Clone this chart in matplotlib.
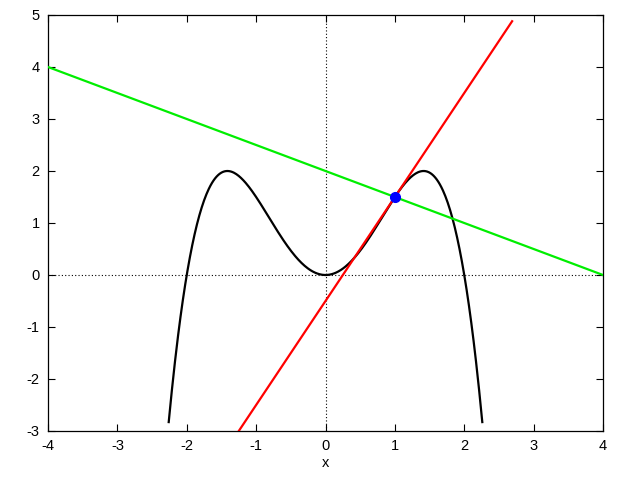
import numpy as np
import matplotlib
matplotlib.use("Agg")
import matplotlib.pyplot as plt

# Data: quartic f(x) = 2x^2 - x^4/2 (coefficients, highest power first)
poly_coeffs = [-0.5, 0.0, 2.0, 0.0, 0.0]
curve_range = [-2.26, 2.26]
tangent_range = [-1.25, 2.69]
normal_range = [-4.0, 4.0]
point_x = [1.0]
point_y = [1.5]
tangent_slope = 2.0
normal_slope = -0.5
xticks = [-4, -3, -2, -1, 0, 1, 2, 3, 4]
yticks = [-3, -2, -1, 0, 1, 2, 3, 4, 5]

plt.rcParams['font.family'] = ['Liberation Sans', 'DejaVu Sans']
plt.rcParams['axes.unicode_minus'] = False
fig = plt.figure(figsize=(6.4, 4.8), dpi=100)
ax = fig.add_axes([48/640, 1-431/480, (603-48)/640, (431-15)/480])

xc = np.linspace(curve_range[0], curve_range[1], 400)
yc = np.polyval(poly_coeffs, xc)
xt = np.linspace(tangent_range[0], tangent_range[1], 2)
yt = point_y[0] + tangent_slope * (xt - point_x[0])
xn = np.linspace(normal_range[0], normal_range[1], 2)
yn = point_y[0] + normal_slope * (xn - point_x[0])

ax.axhline(0, color='black', lw=0.8, ls=(0, (1, 2)), zorder=1)
ax.axvline(0, color='black', lw=0.8, ls=(0, (1, 2)), zorder=1)
ax.plot(xc, yc, color='black', lw=1.6, zorder=3)
ax.plot(xt, yt, color='#ff0000', lw=1.6, zorder=3)
ax.plot(xn, yn, color='#00ee00', lw=1.6, zorder=3)
ax.plot(point_x, point_y, 'o', color='#0000ff', ms=7, zorder=4)

ax.set_xlim(-4, 4)
ax.set_ylim(-3, 5)
ax.set_xticks(xticks)
ax.set_yticks(yticks)
ax.tick_params(direction='in', length=5, width=0.8, top=True, right=True, labelsize=10.5, pad=6, colors='black')
for s in ax.spines.values():
    s.set_linewidth(0.9)
ax.set_xlabel('x', fontsize=10.5, labelpad=2)

fig.savefig('out.png', dpi=100)
